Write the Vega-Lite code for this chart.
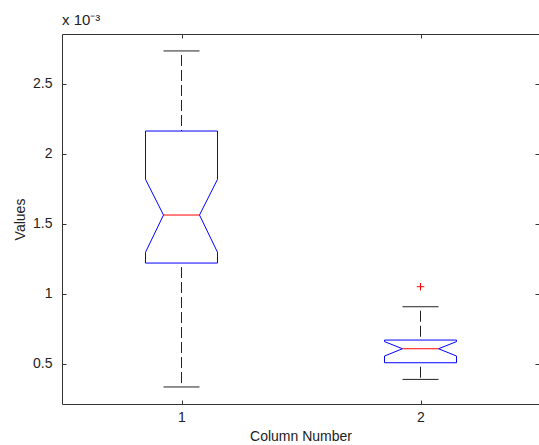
{
  "$schema": "https://vega.github.io/schema/vega-lite/v6.json",
  "width": 477,
  "height": 370,
  "autosize": "none",
  "padding": {"left": 62, "top": 34, "right": 0, "bottom": 41},
  "background": "white",
  "config": {
    "view": {"stroke": null},
    "font": "Liberation Sans",
    "axis": {
      "grid": false,
      "domainColor": "#333333",
      "domainWidth": 1,
      "tickColor": "#333333",
      "tickWidth": 1,
      "tickSize": -4,
      "labelColor": "#222222",
      "labelFontSize": 14,
      "labelFont": "Liberation Sans",
      "titleColor": "#222222",
      "titleFontSize": 14,
      "titleFont": "Liberation Sans",
      "titleFontWeight": "normal"
    }
  },
  "title": {
    "text": "x 10⁻³",
    "anchor": "start",
    "frame": "group",
    "fontSize": 15,
    "fontWeight": "normal",
    "font": "Liberation Sans",
    "color": "#222222",
    "offset": 6
  },
  "datasets": {
    "boxes": [
      {"column": 1, "wlo": 0.336, "q1": 1.221, "nlo": 1.298, "med": 1.564, "nhi": 1.819, "q3": 2.164, "whi": 2.736},
      {"column": 2, "wlo": 0.39, "q1": 0.509, "nlo": 0.557, "med": 0.609, "nhi": 0.66, "q3": 0.671, "whi": 0.909}
    ],
    "outliers": [
      {"column": 2, "value": 1.052}
    ]
  },
  "data": {"name": "boxes"},
  "layer": [
    {
      "mark": {"type": "rule", "color": "#222222", "strokeWidth": 1, "strokeDash": [11, 4], "strokeDashOffset": 11},
      "encoding": {
        "x": {"field": "column", "type": "quantitative", "scale": {"domain": [0.5, 2.4958], "nice": false, "zero": false},
              "axis": {"orient": "bottom", "values": [1, 2], "format": "d", "title": "Column Number", "labelPadding": 10, "titlePadding": 5}},
        "y": {"field": "whi", "type": "quantitative", "scale": {"domain": [0.2143, 2.857], "nice": false, "zero": false},
              "axis": {"orient": "left", "values": [0.5, 1, 1.5, 2, 2.5], "format": "~g", "title": "Values", "labelPadding": 14, "titlePadding": 5}},
        "y2": {"field": "q3"}
      }
    },
    {
      "mark": {"type": "rule", "color": "#222222", "strokeWidth": 1, "strokeDash": [11, 4], "strokeDashOffset": 11},
      "encoding": {
        "x": {"field": "column", "type": "quantitative", "axis": null},
        "y": {"field": "q1", "type": "quantitative", "axis": null},
        "y2": {"field": "wlo"}
      }
    },
    {
      "mark": {"type": "rule", "color": "#222222", "strokeWidth": 1, "xOffset": -18, "x2Offset": 18},
      "encoding": {
        "x": {"field": "column", "type": "quantitative", "axis": null},
        "x2": {"field": "column"},
        "y": {"field": "whi", "type": "quantitative", "axis": null}
      }
    },
    {
      "mark": {"type": "rule", "color": "#222222", "strokeWidth": 1, "xOffset": -18, "x2Offset": 18},
      "encoding": {
        "x": {"field": "column", "type": "quantitative", "axis": null},
        "x2": {"field": "column"},
        "y": {"field": "wlo", "type": "quantitative", "axis": null}
      }
    },
    {
      "mark": {"type": "rule", "color": "#0000ff", "strokeWidth": 1, "xOffset": -36, "x2Offset": 36},
      "encoding": {
        "x": {"field": "column", "type": "quantitative", "axis": null},
        "x2": {"field": "column"},
        "y": {"field": "q3", "type": "quantitative", "axis": null}
      }
    },
    {
      "mark": {"type": "rule", "color": "#0000ff", "strokeWidth": 1, "xOffset": -36, "x2Offset": 36},
      "encoding": {
        "x": {"field": "column", "type": "quantitative", "axis": null},
        "x2": {"field": "column"},
        "y": {"field": "q1", "type": "quantitative", "axis": null}
      }
    },
    {
      "mark": {"type": "rule", "color": "#0000ff", "strokeWidth": 1, "xOffset": -36},
      "encoding": {
        "x": {"field": "column", "type": "quantitative", "axis": null},
        "y": {"field": "q3", "type": "quantitative", "axis": null},
        "y2": {"field": "nhi"}
      }
    },
    {
      "mark": {"type": "rule", "color": "#0000ff", "strokeWidth": 1, "xOffset": 36},
      "encoding": {
        "x": {"field": "column", "type": "quantitative", "axis": null},
        "y": {"field": "q3", "type": "quantitative", "axis": null},
        "y2": {"field": "nhi"}
      }
    },
    {
      "mark": {"type": "rule", "color": "#0000ff", "strokeWidth": 1, "xOffset": -36},
      "encoding": {
        "x": {"field": "column", "type": "quantitative", "axis": null},
        "y": {"field": "nlo", "type": "quantitative", "axis": null},
        "y2": {"field": "q1"}
      }
    },
    {
      "mark": {"type": "rule", "color": "#0000ff", "strokeWidth": 1, "xOffset": 36},
      "encoding": {
        "x": {"field": "column", "type": "quantitative", "axis": null},
        "y": {"field": "nlo", "type": "quantitative", "axis": null},
        "y2": {"field": "q1"}
      }
    },
    {
      "mark": {"type": "rule", "color": "#0000ff", "strokeWidth": 1, "xOffset": -36, "x2Offset": -18},
      "encoding": {
        "x": {"field": "column", "type": "quantitative", "axis": null},
        "x2": {"field": "column"},
        "y": {"field": "nhi", "type": "quantitative", "axis": null},
        "y2": {"field": "med"}
      }
    },
    {
      "mark": {"type": "rule", "color": "#0000ff", "strokeWidth": 1, "xOffset": 36, "x2Offset": 18},
      "encoding": {
        "x": {"field": "column", "type": "quantitative", "axis": null},
        "x2": {"field": "column"},
        "y": {"field": "nhi", "type": "quantitative", "axis": null},
        "y2": {"field": "med"}
      }
    },
    {
      "mark": {"type": "rule", "color": "#0000ff", "strokeWidth": 1, "xOffset": -18, "x2Offset": -36},
      "encoding": {
        "x": {"field": "column", "type": "quantitative", "axis": null},
        "x2": {"field": "column"},
        "y": {"field": "med", "type": "quantitative", "axis": null},
        "y2": {"field": "nlo"}
      }
    },
    {
      "mark": {"type": "rule", "color": "#0000ff", "strokeWidth": 1, "xOffset": 18, "x2Offset": 36},
      "encoding": {
        "x": {"field": "column", "type": "quantitative", "axis": null},
        "x2": {"field": "column"},
        "y": {"field": "med", "type": "quantitative", "axis": null},
        "y2": {"field": "nlo"}
      }
    },
    {
      "mark": {"type": "rule", "color": "#ff0000", "strokeWidth": 1, "xOffset": -18, "x2Offset": 18},
      "encoding": {
        "x": {"field": "column", "type": "quantitative", "axis": null},
        "x2": {"field": "column"},
        "y": {"field": "med", "type": "quantitative", "axis": null}
      }
    },
    {
      "data": {"name": "outliers"},
      "mark": {"type": "point", "shape": "M-1,0L1,0M0,-1L0,1", "size": 56, "filled": false, "stroke": "#ff0000", "strokeWidth": 1, "opacity": 1},
      "encoding": {
        "x": {"field": "column", "type": "quantitative",
              "axis": {"orient": "top", "values": [1, 2], "labels": false, "title": null}},
        "y": {"field": "value", "type": "quantitative",
              "axis": {"orient": "right", "values": [0.5, 1, 1.5, 2, 2.5], "labels": false, "title": null, "domain": false}}
      }
    }
  ],
  "resolve": {"axis": {"x": "independent", "y": "independent"}}
}
